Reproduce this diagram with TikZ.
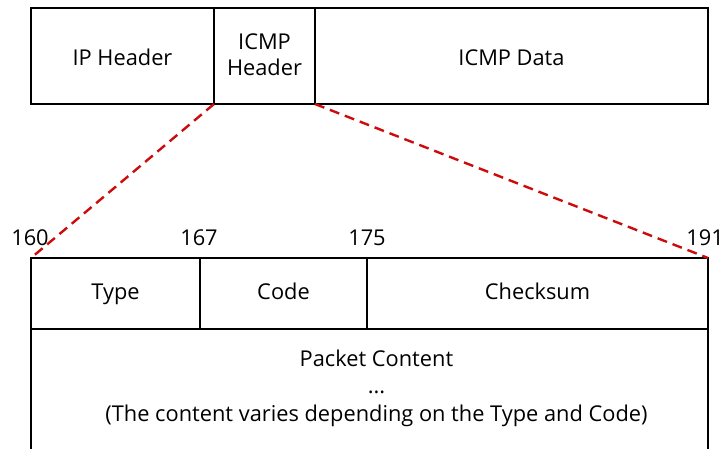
\documentclass[tikz,border=0pt]{standalone}
\usepackage{fontspec}
\setmainfont{Open Sans}
\definecolor{zoomred}{RGB}{204,12,12}
\begin{document}
\begin{tikzpicture}[x=1pt,y=-1pt,
  font=\fontsize{21.8}{26}\selectfont,
  topcell/.style={draw, line width=2pt, outer sep=0pt, inner sep=0pt,
    anchor=north west, minimum height=96pt, align=center,
    text height=18pt, text depth=0pt},
  fieldcell/.style={draw, line width=1.3pt, outer sep=0pt, inner sep=0pt,
    anchor=north west, minimum height=71pt, align=center,
    text height=16pt, text depth=5pt},
  bitlabel/.style={inner sep=0pt, anchor=base},
  zoomline/.style={draw=zoomred, line width=2.4pt, dash pattern=on 10pt off 6pt}]
\clip (0,0) rectangle (723,448);

% outer packet: IP header, ICMP header, ICMP data
\node[topcell, minimum width=183pt] (ip) at (31,8) {IP Header};
\node[topcell, minimum width=101pt, text height=39pt] (icmph) at (214,8) {ICMP\\Header};
\node[topcell, minimum width=393pt] (data) at (315,8) {ICMP Data};

% ICMP header fields
\node[fieldcell, minimum width=169pt] (type) at (31,258) {Type};
\node[fieldcell, minimum width=167pt] (code) at (200,258) {Code};
\node[fieldcell, minimum width=341pt] (checksum) at (367,258) {Checksum};
\node[fieldcell, minimum width=677pt, minimum height=160pt] (content) at (31,329) {};
\node[align=center, anchor=base, inner sep=0pt, font=\fontsize{21.8}{27.5}\selectfont] (contenttext) at (376.5,421)
  {Packet Content\\...\\(The content varies depending on the Type and Code)};

% bit offsets
\node[bitlabel] (b160) at (30,245) {160};
\node[bitlabel] (b167) at (199,245) {167};
\node[bitlabel] (b175) at (367,245) {175};
\node[bitlabel] (b191) at (705,245) {191};

% zoom lines from the ICMP header to its fields
\draw[zoomline] (icmph.south west) -- (type.north west);
\draw[zoomline] (icmph.south east) -- (checksum.north east);
\end{tikzpicture}
\end{document}
